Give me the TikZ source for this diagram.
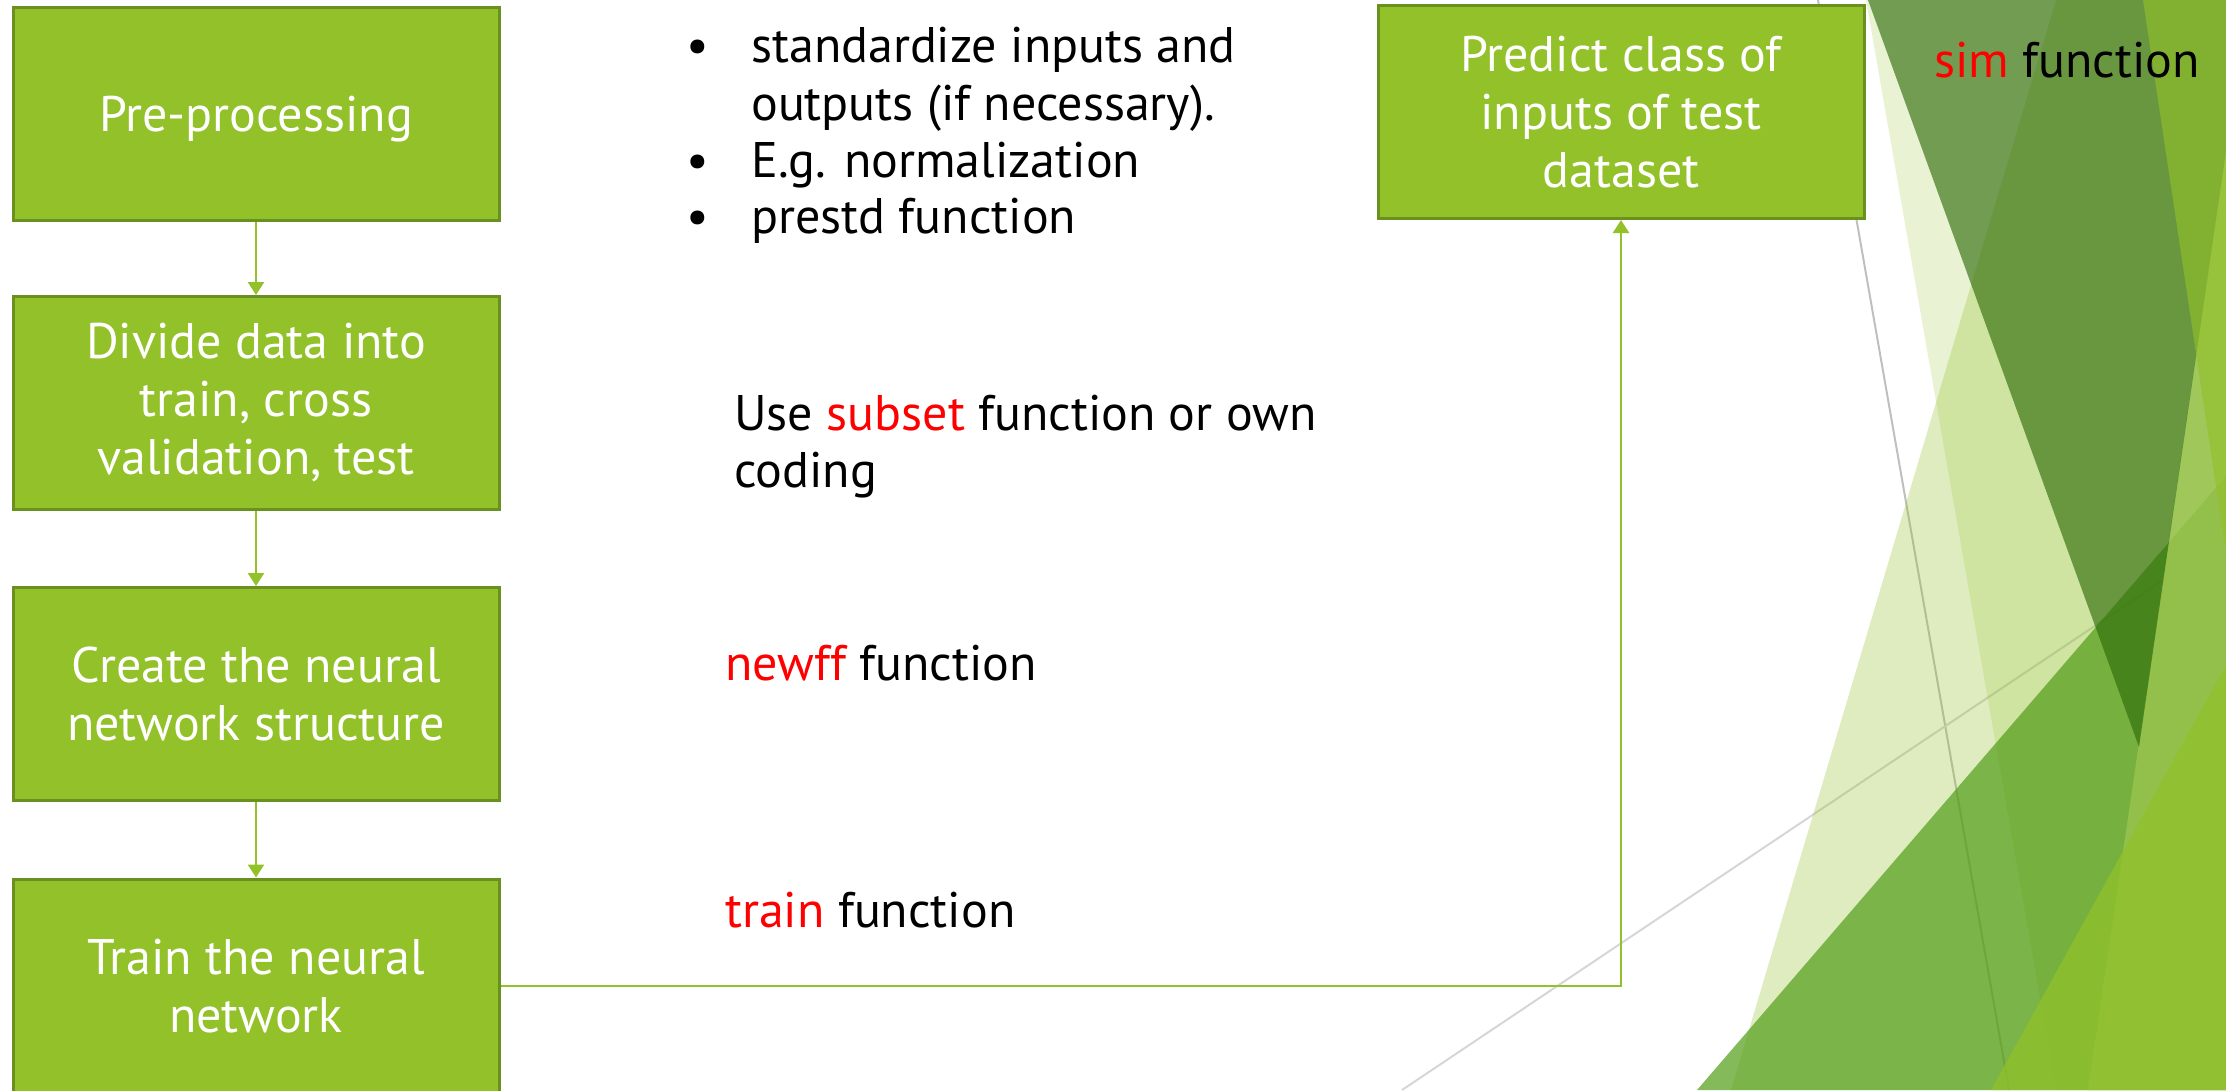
\documentclass[tikz,border=0pt]{standalone}
\usepackage{fontspec}
\setmainfont{PT Sans}
\usetikzlibrary{arrows.meta}
\definecolor{acc}{RGB}{146,193,42}
\definecolor{accdark}{RGB}{106,145,32}
\definecolor{darkfacet}{RGB}{46,106,9}
\definecolor{midfacet}{RGB}{81,156,22}
\definecolor{lightfacet}{RGB}{152,195,78}
\definecolor{greyA}{RGB}{191,191,191}
\definecolor{greyB}{RGB}{214,214,214}
\definecolor{fred}{RGB}{255,0,0}
\begin{document}
\begin{tikzpicture}[x=1pt,y=-1pt,
  stepbox/.style={rectangle, fill=acc, draw=accdark, line width=3pt,
    minimum width=486pt, minimum height=213pt, text=white, align=center,
    inner sep=0pt, font=\fontsize{50}{58}\selectfont},
  conn/.style={draw=acc, line width=2.5pt, -{Triangle[width=16pt,length=13pt]}},
  txt/.style={anchor=base west, inner sep=0pt, text=black, font=\fontsize{50}{58}\selectfont}]
\useasboundingbox (0,0) rectangle (2226,1090);
\begin{scope}
\clip (0,0) rectangle (2226,1090);
% decorative thin lines
\draw[greyA, line width=2pt] (1818,0) -- (2009,1090);
\draw[greyB, line width=2pt] (1402,1090) -- (2226,538);
% facet shapes
\fill[acc, opacity=0.3] (2056,0) -- (2226,0) -- (2226,1090) -- (1731,1090) -- cycle;
\fill[acc, opacity=0.2] (1866,0) -- (2226,0) -- (2226,1090) -- (2056,1090) -- cycle;
\fill[midfacet, opacity=0.7] (1697,1090) -- (2226,476) -- (2226,1090) -- cycle;
\fill[lightfacet, opacity=0.85] (2226,151) -- (2088,1090) -- (2226,1090) -- cycle;
\fill[darkfacet, opacity=0.63] (1868,0) -- (2226,0) -- (2226,151) -- (2139,747) -- cycle;
\fill[acc, opacity=0.63] (2143,0) -- (2226,0) -- (2226,553) -- cycle;
\fill[acc, opacity=0.73] (1991,1090) -- (2226,665) -- (2226,1090) -- cycle;
% boxes
\node[stepbox] (b1) at (256,114) {\smash{\raisebox{-17pt}{Pre-processing}}};
\node[stepbox] (b2) at (256,403) {Divide data into\\train, cross\\validation, test};
\node[stepbox] (b3) at (256,694) {Create the neural\\network structure};
\node[stepbox, minimum height=214pt] (b4) at (256,986) {Train the neural\\network};
\node[stepbox] (b5) at (1621,112) {Predict class of\\inputs of test\\dataset};
% connectors
\draw[conn] (b1) -- (b2);
\draw[conn] (b2) -- (b3);
\draw[conn] (b3) -- (b4);
\draw[conn] (b4.east) -| (b5.south);
\end{scope}
% texts
\node[txt] (p1) at (686,62) {•};
\node[txt] (s1) at (751,62) {standardize inputs and};
\node[txt] (s2) at (751,120) {outputs (if necessary).};
\node[txt] (p2) at (686,177) {•};
\node[txt] (s3) at (751,177) {E.g. normalization};
\node[txt] (p3) at (686,233) {•};
\node[txt] (s4) at (751,233) {prestd function};
\node[txt] (u1) at (734,430) {Use {\color{fred}subset} function or own};
\node[txt] (u2) at (734,487) {coding};
\node[txt] (n1) at (725,680) {{\color{fred}newff} function};
\node[txt] (t1) at (725,927) {{\color{fred}train} function};
\node[txt] (m1) at (1934,77) {{\color{fred}sim} function};
\end{tikzpicture}
\end{document}
